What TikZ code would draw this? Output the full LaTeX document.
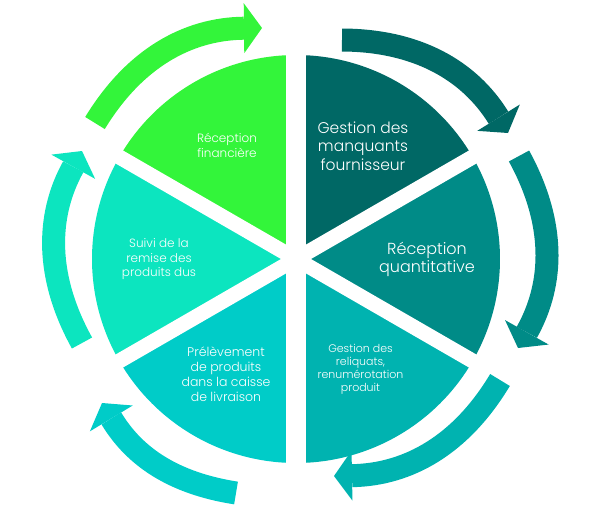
\documentclass[tikz,border=0pt]{standalone}
\usepackage{fontspec}
\setmainfont{Poppins}[UprightFont=* Light]
\usetikzlibrary{arrows.meta, calc}
\definecolor{vert}{HTML}{33F53A}
\definecolor{petrole}{HTML}{006865}
\definecolor{canard}{HTML}{008B87}
\definecolor{lagon}{HTML}{00B3B0}
\definecolor{cyanc}{HTML}{00CCC8}
\definecolor{turquoise}{HTML}{0CE5BF}
\begin{document}
\begin{tikzpicture}[x=1pt, y=1pt, yscale=-1, xscale=1,
  fente/.style={white, line width=15},
  fleche/.style={line width=23, -{Triangle[width=50pt, length=18pt, line width=0pt]}},
  etiq/.style={text=white, align=center, inner sep=0.75pt}]
\useasboundingbox (0,0) rectangle (598,523);
\coordinate (c) at (296,259);
% secteurs
\fill[vert] (c) -- ++(-90:204) arc(-90:-150:204) -- cycle;
\fill[petrole] (c) -- ++(-30:204) arc(-30:-90:204) -- cycle;
\fill[canard] (c) -- ++(30:204) arc(30:-30:204) -- cycle;
\fill[lagon] (c) -- ++(90:204) arc(90:30:204) -- cycle;
\fill[cyanc] (c) -- ++(150:204) arc(150:90:204) -- cycle;
\fill[turquoise] (c) -- ++(210:204) arc(210:150:204) -- cycle;
% fentes blanches
\draw[fente, line width=20] ($(c)+(-90:215)$) -- ($(c)+(90:215)$);
\draw[fente] ($(c)+(30:215)$) -- ($(c)+(210:215)$);
\draw[fente] ($(c)+(-30:215)$) -- ($(c)+(150:215)$);
% fleches du cycle
\draw[fleche, vert] (95,123) to[bend right=29] (262,28);
\draw[fleche, petrole] (342,40) to[bend right=29] (508,133);
\draw[fleche, canard] (519,156) to[bend right=29] (518,348);
\draw[fleche, lagon] (500,380) to[bend right=29] (334,476);
\draw[fleche, cyanc] (236,493) to[bend right=25] (102,403);
\draw[fleche, turquoise] (82,343) to[bend right=29] (82,151);
%Text
\node[etiq, font=\fontsize{12}{15}\selectfont] (financiere) at (227,145) {Réception\\financière};
\node[etiq, font=\fontsize{15.5}{18.5}\selectfont] (manquants) at (363,146) {Gestion des\\manquants\\fournisseur};
\node[etiq, font=\fontsize{16}{18}\selectfont] (quantitative) at (427,259) {Réception\\quantitative};
\node[etiq, font=\fontsize{11}{13}\selectfont] (reliquats) at (360.5,369.5) {Gestion des\\reliquats,\\renumérotation\\produit};
\node[etiq, font=\fontsize{12.5}{15}\selectfont] (prelevement) at (226,374) {Prélèvement\\de produits\\dans la caisse\\de livraison};
\node[etiq, font=\fontsize{12}{14.5}\selectfont] (suivi) at (159,259.5) {Suivi de la\\remise des\\produits dus};
\end{tikzpicture}
\end{document}
